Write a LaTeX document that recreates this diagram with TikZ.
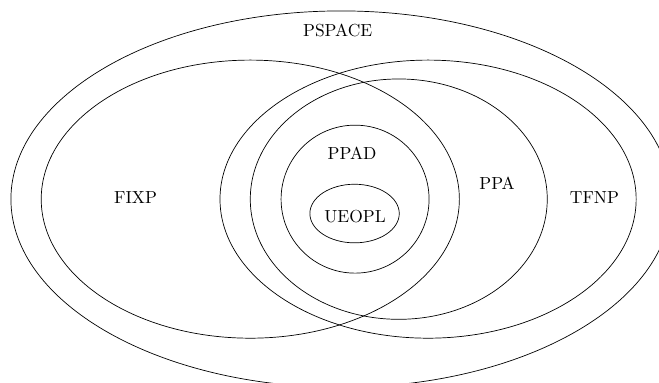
\documentclass[tikz,border=0pt]{standalone}
\usepackage{amsmath}
\usepackage{tikz}

\begin{document}
\begin{tikzpicture}
\useasboundingbox (-6.87, -3.69) rectangle (6.40, 4.01);
\draw (0, 0) ellipse (6.65 and 3.79);
\draw (-1.83, 0) ellipse (4.21 and 2.80);
\draw (1.75, 0) ellipse (4.19 and 2.80);
\draw (1.16, 0) ellipse (2.99 and 2.42);
\draw (0.28, 0) circle (1.49);
\draw (0.27, -0.29) ellipse (0.90 and 0.59);
\node (pspace) at (-0.07, 3.40) {PSPACE};
\node (fixp) at (-4.14, 0.04) {FIXP};
\node (tfnp) at (5.10, 0.04) {TFNP};
\node (ppa) at (3.14, 0.32) {PPA};
\node (ppad) at (0.22, 0.93) {PPAD};
\node (ueopl) at (0.28, -0.36) {UEOPL};
\end{tikzpicture}
\end{document}
